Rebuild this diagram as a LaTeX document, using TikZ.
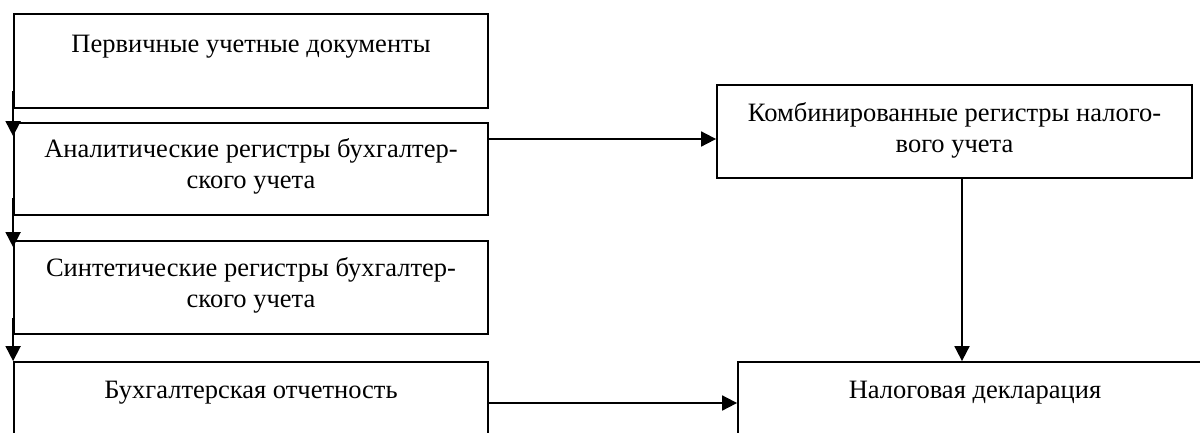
\documentclass[tikz,border=0pt]{standalone}
\usepackage{fontspec}
\setmainfont{Liberation Serif}
\usetikzlibrary{arrows.meta}
\begin{document}
\begin{tikzpicture}[x=1pt,y=-1pt,
  box/.style={draw, line width=1.8pt, rectangle, inner sep=0pt},
  txt/.style={align=center, inner sep=0pt, anchor=base, font=\fontsize{26.5}{31}\selectfont},
  conn/.style={line width=1.8pt, -{Triangle[length=15pt,width=15pt]}}]
\useasboundingbox (0,0) rectangle (1200,432);
\clip (0,0) rectangle (1200,432);
\node[box, minimum width=474pt, minimum height=94pt] (b1) at (251,61) {};
\node[box, minimum width=474pt, minimum height=92pt] (b2) at (251,169) {};
\node[box, minimum width=474pt, minimum height=93pt] (b3) at (251,287.5) {};
\node[box, minimum width=474pt, minimum height=82pt] (b4) at (251,403) {};
\node[box, minimum width=475pt, minimum height=93pt] (r1) at (954.5,131.5) {};
\node[box, minimum width=474pt, minimum height=82pt] (r2) at (975,403) {};
\node[txt] (t1) at (251,52) {Первичные учетные документы};
\node[txt] (t2) at (251,188) {Аналитические регистры бухгалтер-\\ского учета};
\node[txt] (t3) at (251,307) {Синтетические регистры бухгалтер-\\ского учета};
\node[txt] (t4) at (251,398) {Бухгалтерская отчетность};
\node[txt] (t5) at (954.5,152) {Комбинированные регистры налого-\\вого учета};
\node[txt] (t6) at (975,398) {Налоговая декларация};
\draw[conn] ([yshift=18pt]b1.south west) -- ([yshift=-14pt]b2.north west);
\draw[conn] ([yshift=18pt]b2.south west) -- ([yshift=-7pt]b3.north west);
\draw[conn] ([yshift=17pt]b3.south west) -- (b4.north west);
\draw[conn] ([yshift=-7.5pt]r1.west -| b2.east) -- ([yshift=-7.5pt]r1.west);
\draw[conn] (b4.east) -- (b4.east -| r2.west);
\draw[conn] ([xshift=7.5pt]r1.south) -- ([xshift=7.5pt]r1.south |- r2.north);
\end{tikzpicture}
\end{document}
